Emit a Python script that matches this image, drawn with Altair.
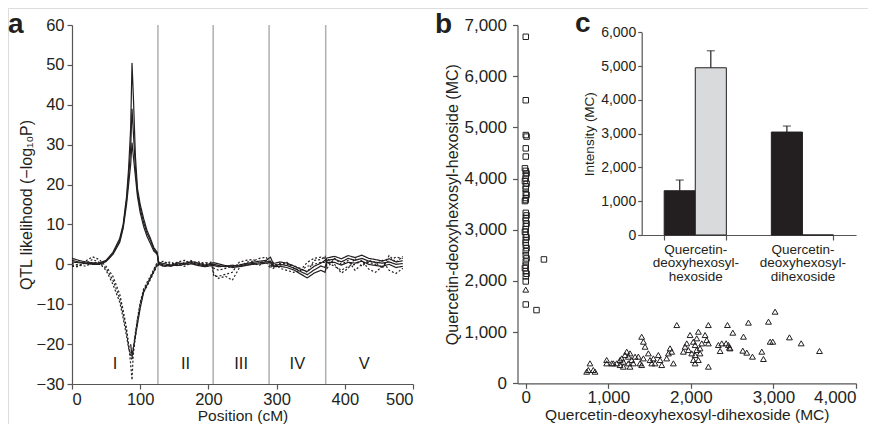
import altair as alt
import pandas as pd

# ---------------- Panel a: QTL profiles ----------------
POS = [0, 10, 20, 30, 40, 50, 60, 70, 75, 80, 83, 86, 88, 90, 93, 96, 100, 105, 110, 115, 120, 125,
       127, 135, 145, 155, 165, 175, 185, 195, 205,
       208, 215, 225, 235, 245, 255, 265, 275, 285,
       291, 295, 305, 315, 325, 335, 345, 355, 365, 371,
       374, 385, 395, 405, 415, 425, 435, 445, 455, 465, 475, 485]

S1 = [1.5, 1.0, 0.6, 0.4, 0.3, 1.0, 3.0, 6.5, 10.0, 17.0, 24.0, 34.0, 50.5, 42.0, 27.0, 19.0, 15.0, 11.5, 8.5, 6.5, 4.2, 3.0,
      0.5, 0.2, -0.3, 0.4, 0.1, 0.7, 0.3, -0.2, 0.3,
      0.4, 0.1, -0.3, -0.5, -0.2, 0.2, 0.5, 0.8, 1.0,
      1.8, 0.2, 0.6, 0.3, -0.4, -1.2, -1.8, -0.5, 0.3, 1.0,
      1.6, 2.0, 1.4, 2.2, 1.7, 2.3, 1.5, 1.2, 0.8, 1.4, 0.6, 0.9]
S2 = [1.0, 0.6, 0.3, 0.2, 0.1, 0.8, 2.7, 6.0, 9.5, 16.0, 22.0, 29.0, 39.0, 33.0, 24.0, 18.0, 14.0, 10.5, 7.8, 6.0, 3.8, 2.7,
      0.3, -0.2, -0.5, 0.1, 0.3, 0.4, 0.0, -0.4, 0.0,
      0.0, -0.3, -0.6, -0.2, -0.5, 0.0, 0.2, 0.4, 0.6,
      0.8, -0.3, 0.0, -0.3, -0.9, -1.8, -2.6, -1.4, -0.4, -0.8,
      1.0, 1.3, 0.6, 1.5, 1.0, 1.5, 0.8, 0.5, 0.3, 0.6, 0.0, 0.2]
S3 = [0.6, 0.4, 0.2, 0.0, 0.0, 0.7, 2.5, 5.5, 9.0, 15.0, 20.0, 25.0, 30.5, 27.0, 22.0, 17.0, 13.0, 9.5, 7.0, 5.2, 3.3, 2.5,
      0.0, -0.5, -0.2, -0.3, 0.0, 0.1, -0.3, -0.6, -0.3,
      -0.3, -0.6, -0.4, -0.8, -0.6, -0.3, 0.0, 0.1, 0.3,
      0.4, -0.6, -0.5, -0.8, -1.4, -2.4, -3.4, -2.2, -1.5, -2.0,
      0.5, 0.5, -0.2, 0.5, 0.3, 0.8, 0.0, -0.3, -0.5, 0.0, -0.8, -0.5]
D1 = [-0.5, -0.6, 0.8, 1.9, 1.2, -0.5, -3.0, -7.5, -11.5, -16.0, -20.0, -25.0, -29.0, -22.0, -18.0, -14.5, -10.5, -7.0, -5.5, -3.8, -2.0, -0.3,
      0.5, 0.8, -0.3, 0.6, 1.0, 0.2, 0.7, -0.2, 0.4,
      -2.5, -3.5, -3.0, -4.0, -1.0, 0.5, 0.8, 1.5, 1.8,
      -0.5, 0.0, -0.5, 0.5, -1.0, -1.5, 0.5, 1.5, 1.8, 1.5,
      0.5, -0.5, -1.5, -0.5, 0.0, 1.0, -1.2, -2.0, -0.5, 1.0, 1.8, 1.5]
D2 = [0.2, -0.3, 0.3, 1.2, 0.5, -1.0, -4.0, -8.5, -12.5, -17.0, -20.5, -23.0, -24.0, -22.0, -17.5, -14.0, -10.0, -6.5, -5.0, -3.3, -1.5, 0.2,
      -0.3, 0.3, 0.6, -0.4, 0.5, 0.9, 0.2, 0.5, -0.2,
      -3.0, -3.0, -2.5, -2.0, 0.5, 1.0, 1.2, 0.5, 0.8,
      0.5, -1.0, 0.3, 0.0, -0.3, -1.0, -2.0, 1.0, 1.2, 2.0,
      -1.0, 1.5, 0.0, 1.0, -1.5, 0.0, 0.5, 0.0, 1.0, -1.5, -2.3, -1.0]
D3 = [-0.4, 0.0, -0.5, 0.5, 0.3, -1.5, -5.0, -9.5, -13.5, -18.0, -21.0, -22.5, -23.0, -21.0, -17.0, -13.5, -9.5, -6.2, -4.5, -3.0, -1.2, 0.5,
      0.2, -0.6, 0.3, 0.0, -0.5, 0.4, -0.3, 0.2, 0.6,
      -1.0, -1.5, -1.0, -0.5, 0.0, -0.3, 0.2, -0.2, 0.5,
      -1.0, 0.5, -1.0, -1.5, -2.0, -1.5, -0.5, 0.0, 0.5, 0.5,
      1.5, 0.0, -2.2, -1.0, 1.5, -0.5, 1.0, 0.5, -1.0, 2.2, 0.5, 2.0]
N_POS = [86, 88, 90, 93, 96, 100, 105, 110, 115, 120, 125]
N_VAL = [-20.0, -23.0, -21.0, -18.0, -15.0, -11.0, -7.0, -5.2, -3.5, -1.8, 0.0]

CHR_NAMES = ["I", "II", "III", "IV", "V"]
CHR_BOUNDS = [0, 126, 207, 289, 372, 485]

# ---------------- Panel b: scatter ----------------
SQ_X = [0, 0, 0, 10, 0, 0, -10, 0, 10, 0, 0, -10, 10, 0, 0, 0, 10, 0, 0, -10, 0, 10, 0, 0, 10, 0, 0,
        -10, 0, 10, 0, 0, 0, 10, 0, 0, 10, 0, 0, -10, 0, 10, 0, 0, 0, 130, 220]
SQ_Y = [6770, 5530, 4850, 4820, 4590, 4430, 4200, 4150, 4100, 4060, 4000, 3950, 3900, 3850, 3800, 3720,
        3680, 3620, 3580, 3560, 3330, 3280, 3230, 3180, 3120, 3070, 3010, 2960, 2900, 2850, 2800, 2750,
        2700, 2640, 2580, 2500, 2440, 2380, 2300, 2250, 2190, 2140, 2090, 1990, 1540, 1430, 2420]
TRI_X = [0, 738, 758, 778, 818, 839, 980, 980, 1041, 1061, 1101,
         1142, 1142, 1162, 1182, 1182, 1202, 1223, 1243, 1243, 1263, 1263, 1283, 1303, 1324, 1364, 1384,
         1404, 1425, 1404, 1425, 1445, 1485, 1505, 1526, 1546, 1566, 1606, 1627, 1647, 1707, 1728, 1748,
         1768, 1788, 1829, 1909, 1930, 1950, 1970, 1990, 2010, 2030, 2030, 2051, 2051, 2051, 2071, 2071,
         2091, 2091, 2111, 2111, 2132, 2172, 2192, 2212, 2212, 2212, 2333, 2354, 2374, 2427, 2467, 2443,
         2455, 2475, 2508, 2629, 2677, 2637, 2697, 2746, 2859, 2879, 2940, 2960, 2992, 3020, 3194, 3336, 3558]
TRI_Y = [1830, 227, 260, 390, 260, 227, 390, 456, 390, 390, 390,
         455, 357, 487, 422, 325, 552, 618, 520, 390, 585, 325, 455, 390, 520, 520, 390,
         357, 487, 910, 813, 715, 585, 455, 390, 487, 390, 552, 455, 357, 487, 585, 683,
         618, 390, 1138, 618, 715, 780, 650, 943, 585, 813, 455, 748, 552, 390, 878, 650,
         1008, 455, 683, 585, 780, 943, 845, 1138, 780, 325, 748, 631, 780, 781, 696, 1139,
         748, 683, 989, 638, 599, 911, 1185, 521, 618, 475, 1204, 813, 813, 1399, 898, 781, 631]

# ---------------- Panel c: inset bars ----------------
C_CATS = ["Quercetin-deoxyhexosyl-hexoside", "Quercetin-deoxyhexosyl-dihexoside"]
C_SERIES = ["Line 1", "Line 2"]
C_LINE1 = [1310, 3047]
C_LINE1_ERR = [317, 178]
C_LINE2 = [4950, 0]
C_LINE2_ERR = [503, 0]

INK = "#231f20"
FONT = "Liberation Sans"

# ---- data frames ----
rows = []
for name, style, vals in [("S1", "solid", S1), ("S2", "solid", S2), ("S3", "solid", S3),
                          ("D1", "dotted", D1), ("D2", "dotted", D2), ("D3", "dotted", D3)]:
    assert len(vals) == len(POS)
    for p, v in zip(POS, vals):
        rows.append({"pos": p, "val": v, "series": name, "style": style})
for p, v in zip(N_POS, N_VAL):
    rows.append({"pos": p, "val": v, "series": "N", "style": "solid"})
df_lines = pd.DataFrame(rows)
df_bounds = pd.DataFrame({"b": CHR_BOUNDS[1:-1]})
df_chr = pd.DataFrame({"name": CHR_NAMES,
                       "mid": [(CHR_BOUNDS[i] + CHR_BOUNDS[i + 1]) / 2 for i in range(5)]})

df_sq = pd.DataFrame({"x": SQ_X, "y": SQ_Y})
df_tri = pd.DataFrame({"x": TRI_X, "y": TRI_Y})

crows = []
for i, c in enumerate(C_CATS):
    crows.append({"cat": c, "series": C_SERIES[0], "v": C_LINE1[i], "hi": C_LINE1[i] + C_LINE1_ERR[i], "err": C_LINE1_ERR[i]})
    crows.append({"cat": c, "series": C_SERIES[1], "v": C_LINE2[i], "hi": C_LINE2[i] + C_LINE2_ERR[i], "err": C_LINE2_ERR[i]})
df_c = pd.DataFrame(crows)
df_cerr = df_c[df_c["err"] > 0]

axc = dict(grid=False, domainColor="#555555", tickColor="#555555", labelColor=INK, titleColor=INK,
           labelFont=FONT, titleFont=FONT, titleFontWeight="normal", domainWidth=1.2, tickWidth=1.2)

# ---- panel a ----
a_x = alt.Scale(domain=[0, 500], range=[64, 405], nice=False, zero=False)
a_y = alt.Scale(domain=[-30, 60], range=[376, 17], nice=False, zero=False)
ax_a_x = alt.Axis(orient="bottom", offset=-40, values=[0, 100, 200, 300, 400, 500], title="Position (cM)",
                  labelFontSize=16.5, titleFontSize=15.5, tickSize=5, labelPadding=2,
                  titleY=31.5, titleBaseline="middle", **axc)
ax_a_y = alt.Axis(orient="left", offset=-64, values=list(range(-30, 61, 10)), title="QTL likelihood (−log₁₀P)",
                  labelFontSize=16.5, titleFontSize=16, tickSize=5, labelPadding=3, titlePadding=2, **axc)

a_rules = alt.Chart(df_bounds).mark_rule(color="#b0b0b0", strokeWidth=1.5).encode(
    x=alt.X("b:Q", scale=a_x, axis=ax_a_x),
    y=alt.Y(datum=-30, scale=a_y, axis=ax_a_y),
    y2=alt.Y2(datum=60),
)
a_lines = alt.Chart(df_lines).mark_line(strokeWidth=1.2, color=INK).encode(
    x=alt.X("pos:Q", scale=a_x, axis=ax_a_x),
    y=alt.Y("val:Q", scale=a_y, axis=ax_a_y),
    detail="series:N",
    strokeDash=alt.StrokeDash("style:N", scale=alt.Scale(domain=["solid", "dotted"], range=[[1, 0], [2, 2]]), legend=None),
)
a_text = alt.Chart(df_chr).mark_text(fontSize=16.5, color=INK, font=FONT).encode(
    x=alt.X("mid:Q", scale=a_x, axis=ax_a_x),
    y=alt.Y(datum=-25, scale=a_y, axis=ax_a_y),
    text="name:N",
)
panel_a = alt.layer(a_rules, a_lines, a_text)

# ---- panel b ----
b_x = alt.Scale(domain=[-100, 4000], range=[509.5, 848], nice=False, zero=False)
b_y = alt.Scale(domain=[0, 7000], range=[375.3, 17], nice=False, zero=False)
ax_b_x = alt.Axis(orient="bottom", offset=-40.7, values=[0, 1000, 2000, 3000, 4000], format=",d",
                  title="Quercetin-deoxyhexosyl-dihexoside (MC)",
                  labelFontSize=17, titleFontSize=15.5, tickSize=5, labelPadding=1,
                  titleY=31.5, titleBaseline="middle", **axc)
ax_b_y = alt.Axis(orient="left", offset=-509.5, values=list(range(0, 7001, 1000)), format=",d",
                  title="Quercetin-deoxyhexosyl-hexoside (MC)",
                  labelFontSize=17, titleFontSize=16, tickSize=5, labelPadding=6, titlePadding=3, **axc)
b_sq = alt.Chart(df_sq).mark_point(shape="square", filled=False, size=30, strokeWidth=1, color=INK, opacity=1).encode(
    x=alt.X("x:Q", scale=b_x, axis=ax_b_x),
    y=alt.Y("y:Q", scale=b_y, axis=ax_b_y),
)
b_tri = alt.Chart(df_tri).mark_point(shape="triangle-up", filled=False, size=34, strokeWidth=1, color=INK, opacity=1).encode(
    x=alt.X("x:Q", scale=b_x, axis=ax_b_x),
    y=alt.Y("y:Q", scale=b_y, axis=ax_b_y),
)
panel_b = alt.layer(b_sq, b_tri)

# ---- panel c ----
c_x = alt.Scale(domain=C_CATS, range=[633.7, 848], paddingInner=0.42, paddingOuter=0.21)
c_y = alt.Scale(domain=[0, 6000], range=[227, 24.3], nice=False, zero=True)
c_off = alt.Scale(domain=C_SERIES, paddingInner=0, paddingOuter=0)
ax_c_x = alt.Axis(orient="bottom", offset=-189, title=None, labelAngle=0, tickBand="extent",
                  labelExpr="split(replace(datum.label, regexp('-', 'g'), '-|'), '|')",
                  labelFontSize=13.5, labelLineHeight=13.5, tickSize=5, labelPadding=2, **axc)
ax_c_y = alt.Axis(orient="left", offset=-633.7, values=list(range(0, 6001, 1000)), format=",d",
                  title="Intensity (MC)", labelFontSize=14, titleFontSize=13.5, tickSize=4,
                  labelPadding=2, titlePadding=4, **axc)
c_bars = alt.Chart(df_c).mark_bar(stroke=INK, strokeWidth=1).encode(
    x=alt.X("cat:N", scale=c_x, axis=ax_c_x, sort=C_CATS),
    xOffset=alt.XOffset("series:N", scale=c_off, sort=C_SERIES),
    y=alt.Y("v:Q", scale=c_y, axis=ax_c_y),
    color=alt.Color("series:N", scale=alt.Scale(domain=C_SERIES, range=[INK, "#d9dadc"]), legend=None),
)
c_err = alt.Chart(df_cerr).mark_rule(color=INK, strokeWidth=1.2).encode(
    x=alt.X("cat:N", scale=c_x, axis=ax_c_x, sort=C_CATS),
    xOffset=alt.XOffset("series:N", scale=c_off, sort=C_SERIES),
    y=alt.Y("v:Q", scale=c_y, axis=ax_c_y),
    y2="hi:Q",
)
c_cap = alt.Chart(df_cerr).mark_tick(color=INK, thickness=1.2, size=8, orient="horizontal").encode(
    x=alt.X("cat:N", scale=c_x, axis=ax_c_x, sort=C_CATS),
    xOffset=alt.XOffset("series:N", scale=c_off, sort=C_SERIES),
    y=alt.Y("hi:Q", scale=c_y, axis=ax_c_y),
)
panel_c = alt.layer(c_bars, c_err, c_cap)

# ---- panel letters ----
def letter(t, x, y):
    return alt.Chart(alt.Data(values=[{"t": t}])).mark_text(
        font=FONT, fontSize=28, fontWeight="bold", color=INK, align="left", baseline="alphabetic"
    ).encode(x=alt.value(x), y=alt.value(y), text="t:N")

chart = alt.layer(
    panel_a, panel_b, panel_c,
    letter("a", 0, 25), letter("b", 427, 25), letter("c", 567, 24),
).resolve_scale(
    x="independent", y="independent"
).properties(
    width=860, height=416, autosize=alt.AutoSizeParams(type="none"), padding=0
).configure_view(strokeWidth=0).configure(background="white")

chart.save("out.html", embed_options={"renderer": "svg", "actions": False})
